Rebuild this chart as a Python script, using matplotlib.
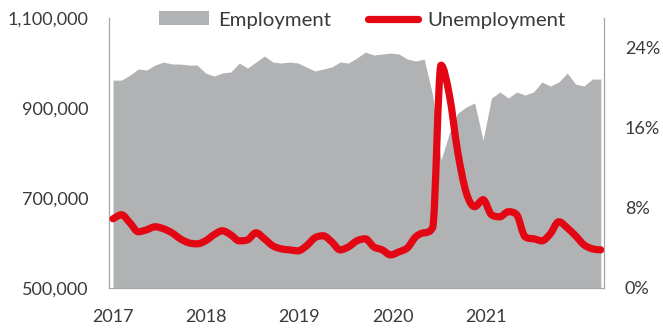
import matplotlib.pyplot as plt
from matplotlib.patches import Patch, PathPatch
from matplotlib.lines import Line2D
from matplotlib.path import Path
from matplotlib.ticker import FuncFormatter
import numpy as np

# monthly figures, Jan 2017 - Nov 2021
employment = [
    962000, 962000, 973000, 986700, 984400, 995600, 1002200, 997800, 997800, 995600,
    995600, 977800, 971100, 977800, 980000, 1000000, 988900, 1002200, 1015600, 1002200,
    1000000, 1002200, 1000000, 991100, 982200, 986700, 991100, 1002200, 1000000, 1011100,
    1024400, 1017800, 1020000, 1022200, 1020000, 1008900, 1004400, 1008900, 928900, 784400,
    844400, 888900, 902200, 911100, 828900, 922200, 935600, 922200, 935600, 928900,
    935600, 957800, 948900, 957800, 977800, 953300, 948900, 964400, 964400,
]
unemployment = [
    6.9, 7.3, 6.5, 5.6, 5.8, 6.1, 5.9, 5.5, 4.9, 4.5,
    4.4, 4.7, 5.3, 5.7, 5.3, 4.7, 4.8, 5.5, 4.9, 4.2,
    3.9, 3.8, 3.7, 4.2, 5.0, 5.2, 4.6, 3.8, 4.1, 4.7,
    4.9, 4.1, 3.8, 3.3, 3.6, 4.0, 5.1, 5.5, 6.0, 22.2,
    19.2, 13.5, 9.5, 8.1, 8.8, 7.3, 7.1, 7.6, 7.3, 5.1,
    4.9, 4.7, 5.4, 6.6, 6.0, 5.2, 4.3, 3.9, 3.8,
]
years = ["2017", "2018", "2019", "2020", "2021"]

GREY = "#b1b2b4"
RED = "#e30613"
SPINE = "#a6a6a6"
TEXT = "#3a3a3a"

plt.rcParams["font.family"] = ["Lato", "DejaVu Sans"]


def smooth_path(xs, ys):
    # monotone cubic (Fritsch-Carlson) drawn as bezier segments
    xs = np.asarray(xs, float)
    ys = np.asarray(ys, float)
    h = np.diff(xs)
    d = np.diff(ys) / h
    m = np.zeros_like(ys)
    m[0], m[-1] = d[0], d[-1]
    for k in range(1, len(ys) - 1):
        if d[k - 1] * d[k] > 0:
            m[k] = (d[k - 1] + d[k]) / 2
    for k in range(len(d)):
        if d[k] == 0:
            m[k] = m[k + 1] = 0
            continue
        a, b = m[k] / d[k], m[k + 1] / d[k]
        s = a * a + b * b
        if s > 9:
            t = 3 / np.sqrt(s)
            m[k], m[k + 1] = t * a * d[k], t * b * d[k]
    verts = [(xs[0], ys[0])]
    codes = [Path.MOVETO]
    for k in range(len(d)):
        verts += [(xs[k] + h[k] / 3, ys[k] + m[k] * h[k] / 3),
                  (xs[k + 1] - h[k] / 3, ys[k + 1] - m[k + 1] * h[k] / 3),
                  (xs[k + 1], ys[k + 1])]
        codes += [Path.CURVE4] * 3
    return Path(verts, codes)


fig = plt.figure(figsize=(6.63, 3.28), dpi=100)
ax = fig.add_axes([0.1644, 0.122, 0.7466, 0.823])
ax2 = ax.twinx()

x = np.arange(len(employment))
ax.fill_between(x, 500000, employment, color=GREY, linewidth=0)
ax2.add_patch(PathPatch(smooth_path(x, np.array(unemployment) / 100),
                        facecolor="none", edgecolor=RED, linewidth=5.2,
                        joinstyle="round", capstyle="round"))

ax.set_xlim(-0.48, 58.38)
ax.set_ylim(500000, 1100000)
ax2.set_ylim(0, 0.269)

ax.set_yticks([500000, 700000, 900000, 1100000])
ax.yaxis.set_major_formatter(FuncFormatter(lambda v, p: f"{int(v):,}"))
ax2.set_yticks([0, 0.08, 0.16, 0.24])
ax2.yaxis.set_major_formatter(FuncFormatter(lambda v, p: f"{v * 100:.0f}%"))
ax.set_xticks(np.arange(len(years)) * 11.08)
ax.set_xticklabels(years)

for a in (ax, ax2):
    a.tick_params(length=0, labelsize=13, colors=TEXT)
    for s in a.spines.values():
        s.set_color(SPINE)
        s.set_linewidth(0.9)
    a.spines["top"].set_visible(False)
ax.spines["right"].set_visible(False)
ax2.spines["left"].set_visible(False)
ax2.spines["bottom"].set_visible(False)
ax.tick_params(axis="y", pad=15)
ax.tick_params(axis="x", pad=15)
ax2.tick_params(axis="y", pad=15)

handles = [Patch(facecolor=GREY, edgecolor="none"),
           Line2D([], [], color=RED, linewidth=5.2, solid_capstyle="round")]
fig.legend(handles, ["Employment", "Unemployment"], ncol=2, frameon=False,
           loc="center", bbox_to_anchor=(0.546, 0.939), fontsize=14.7,
           handlelength=2.45, handleheight=0.68, handletextpad=0.45,
           columnspacing=1.8, labelcolor=TEXT)

fig.savefig("out.png", dpi=100)
